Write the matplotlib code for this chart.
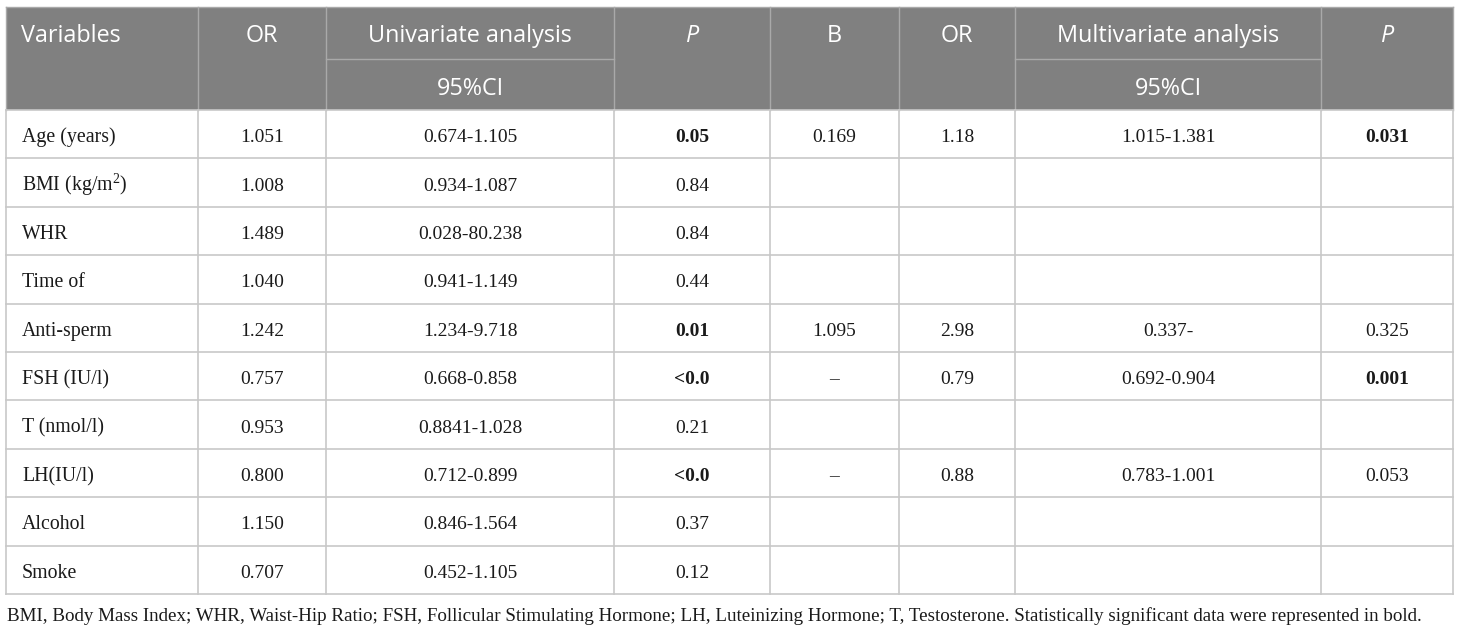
import matplotlib
matplotlib.use("Agg")
import matplotlib.pyplot as plt
from matplotlib.patches import Rectangle

plt.rcParams["mathtext.fontset"] = "custom"
plt.rcParams["mathtext.rm"] = "Liberation Serif"

variables = ["Age (years)", "BMI (kg/m$^{\\mathrm{2}}$)", "WHR", "Time of", "Anti-sperm",
             "FSH (IU/l)", "T (nmol/l)", "LH(IU/l)", "Alcohol", "Smoke"]
uni_or = ["1.051", "1.008", "1.489", "1.040", "1.242", "0.757", "0.953", "0.800", "1.150", "0.707"]
uni_ci = ["0.674-1.105", "0.934-1.087", "0.028-80.238", "0.941-1.149", "1.234-9.718",
          "0.668-0.858", "0.8841-1.028", "0.712-0.899", "0.846-1.564", "0.452-1.105"]
uni_p = ["0.05", "0.84", "0.84", "0.44", "0.01", "<0.0", "0.21", "<0.0", "0.37", "0.12"]
uni_p_bold = [True, False, False, False, True, True, False, True, False, False]
multi_b = ["0.169", "", "", "", "1.095", "\u2013", "", "\u2013", "", ""]
multi_or = ["1.18", "", "", "", "2.98", "0.79", "", "0.88", "", ""]
multi_ci = ["1.015-1.381", "", "", "", "0.337-", "0.692-0.904", "", "0.783-1.001", "", ""]
multi_p = ["0.031", "", "", "", "0.325", "0.001", "", "0.053", "", ""]
multi_p_bold = [True, False, False, False, False, True, False, False, False, False]

footnote = ("BMI, Body Mass Index; WHR, Waist-Hip Ratio; FSH, Follicular Stimulating Hormone; "
            "LH, Luteinizing Hormone; T, Testosterone. Statistically significant data were represented in bold.")

# layout in pixels
col_x = [6, 198, 326, 614, 770, 899, 1015, 1321, 1453]
head_top, head_mid, head_bot = 7, 59, 110
row_h = 48.4
n = len(variables)
tab_bot = head_bot + n * row_h

head_bg = "#808080"
head_line = "#a9a9a9"
grid = "#c8c8c8"
head_font = "Open Sans"
body_font = "Liberation Serif"

fig = plt.figure(figsize=(14.6, 6.31), dpi=100)
ax = fig.add_axes([0, 0, 1, 1])
ax.set_xlim(0, 1460)
ax.set_ylim(631, 0)
ax.axis("off")

# header
ax.add_patch(Rectangle((col_x[0], head_top), col_x[-1] - col_x[0], head_bot - head_top,
                       facecolor=head_bg, edgecolor="none", zorder=1))
for x in col_x:
    ax.plot([x, x], [head_top, head_bot], color=head_line, lw=1, zorder=2)
ax.plot([col_x[0], col_x[-1]], [head_top, head_top], color=head_line, lw=1, zorder=2)
for i in (2, 6):
    ax.plot([col_x[i], col_x[i + 1]], [head_mid, head_mid], color=head_line, lw=1, zorder=2)

head_labels = ["Variables", "OR", "Univariate analysis", "P", "B", "OR", "Multivariate analysis", "P"]
for i, lab in enumerate(head_labels):
    if i == 0:
        x, ha = col_x[0] + 15, "left"
    else:
        x, ha = (col_x[i] + col_x[i + 1]) / 2, "center"
    st = "italic" if lab == "P" else "normal"
    ax.text(x, 42, lab, ha=ha, va="baseline", color="white", fontsize=16.8,
            family=head_font, style=st, zorder=3)
for i in (2, 6):
    ax.text((col_x[i] + col_x[i + 1]) / 2, 95, "95%CI", ha="center", va="baseline",
            color="white", fontsize=16.8, family=head_font, zorder=3)

# body grid
for r in range(n + 1):
    y = head_bot + r * row_h
    ax.plot([col_x[0], col_x[-1]], [y, y], color=grid, lw=1.2, zorder=2)
for x in col_x:
    ax.plot([x, x], [head_bot, tab_bot], color=grid, lw=1.2, zorder=2)

columns = [uni_or, uni_ci, uni_p, multi_b, multi_or, multi_ci, multi_p]
bolds = [None, None, uni_p_bold, None, None, None, multi_p_bold]
for r in range(n):
    yb = head_bot + r * row_h + row_h / 2 + 8
    ax.text(col_x[0] + 16, yb, variables[r], ha="left", va="baseline", fontsize=14.3,
            family=body_font, color="#1a1a1a", zorder=3)
    for c, vals in enumerate(columns):
        cx = (col_x[c + 1] + col_x[c + 2]) / 2
        w = "bold" if bolds[c] is not None and bolds[c][r] else "normal"
        ax.text(cx, yb, vals[r], ha="center", va="baseline", fontsize=14,
                family=body_font, weight=w, color="#1a1a1a", zorder=3)

ax.text(col_x[0] + 1, 621, footnote, ha="left", va="baseline", fontsize=13.7,
        family=body_font, color="#1a1a1a")

fig.savefig("out.png", dpi=100, facecolor="white")
